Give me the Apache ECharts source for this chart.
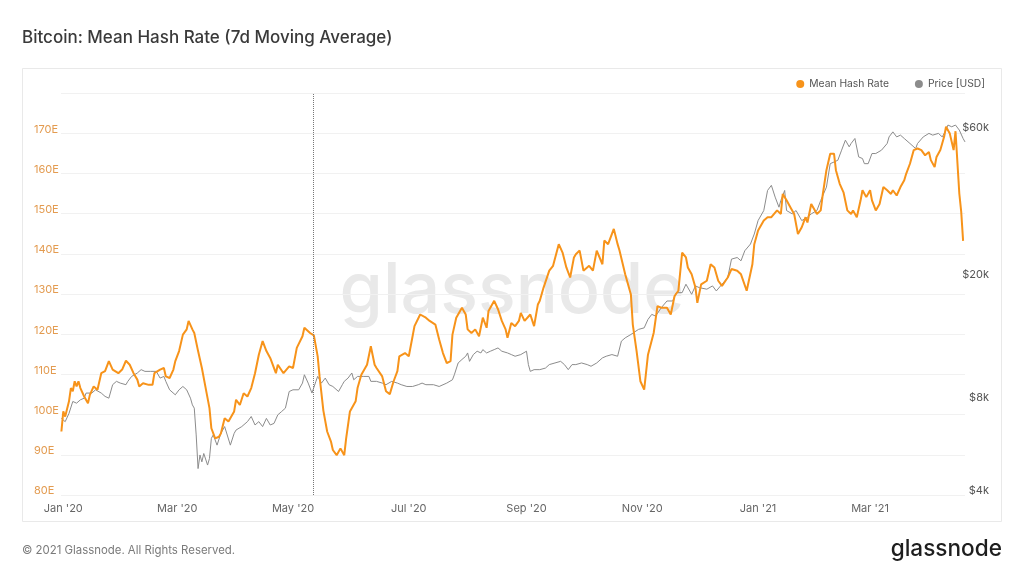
<!DOCTYPE html>
<html><head><meta charset="utf-8">
<script src="https://cdn.jsdelivr.net/npm/echarts@6/dist/echarts.min.js"></script>
<style>html,body{margin:0;padding:0;background:#fff}#c{width:1024px;height:576px}</style>
</head><body><div id="c"></div>
<script>
// Days since 2020-01-01 (UTC) for each reading
const hashDays = [-1,0,1,3,4,5,6,7,8,9,11,13,14,16,18,20,22,24,26,27,29,31,33,35,37,39,40,42,45,47,48,51,53,54,56,58,59,61,63,65,66,68,69,71,73,75,77,78,80,82,83,85,87,90,91,93,95,97,99,101,103,105,107,109,112,113,116,119,121,123,126,127,130,132,134,135,137,139,141,142,144,146,148,149,151,154,155,157,160,162,164,165,168,170,172,174,176,177,180,182,184,185,188,191,193,196,198,200,202,204,205,207,210,212,213,215,217,219,221,223,224,227,229,231,233,234,236,238,240,241,243,246,248,250,251,253,256,258,261,263,265,267,269,270,272,274,277,279,281,284,285,287,290,292,293,296,299,300,302,304,306,308,311,313,315,318,320,322,324,326,328,329,331,333,334,336,339,341,343,345,347,350,352,355,357,360,363,364,366,369,371,373,376,378,379,381,383,385,387,389,391,392,394,397,399,400,402,404,406,407,409,411,413,415,416,418,420,421,423,425,426,428,430,432,434,436,437,439,441,443,444,446,448,450,452,454,456,457,459,460,462,464,465,467,469,470,471,472,473,474];
const hashValues = [95.8,100.8,99.5,103.3,106.6,105.8,108.3,107,108.3,106.6,104.5,102.8,104.9,107,106.2,110.3,110.8,113.3,111.2,111.6,110.3,111.2,113.4,112.4,110.3,108.7,107,107.8,107.4,107.4,110.3,111.2,111.6,109.5,109.1,111.2,113.3,115.8,119.9,121.2,123.3,121.2,120.3,115.8,111.6,106.6,101.6,96.6,94.1,94.5,95.3,99.1,98.3,100.8,103.7,102.4,105.3,104.5,106.6,110.3,114.9,118.3,115.8,114.1,110.3,112.4,110.3,112,111.6,116.6,119.5,121.6,120.3,119.7,114.5,109.5,101,95.8,93.3,91.2,89.9,91.6,89.9,94.1,100.8,103.3,106.6,109.9,112.4,117,112.4,111.6,109.5,105.8,105.1,108.3,110.8,114.5,115.3,114.5,119.5,122,124.9,124.1,123.3,122.4,118.7,115.3,112.8,113.3,119.9,124.1,126.6,124.9,121.2,120.3,121.2,119.5,124.1,121.6,125.8,128.3,126.2,123.3,121.2,119.1,122.8,122,123.3,125.3,123.3,124.9,122,127.4,128.3,131.6,135.8,137,142.4,140.3,136.6,134.1,139.1,139.9,140.8,135.8,137,135.8,140.8,137.4,143.3,142.4,146.2,142.4,140.8,134.9,129.9,122.4,115.8,108.3,106.2,114.9,120.3,127,126.6,126.6,124.9,129.5,130.8,140.3,139.1,136.6,134.9,131.6,127.8,132.4,133.3,137.4,136.6,133.3,132,134.1,136.2,135.8,134.9,130.8,137.4,142.4,145.8,148.3,149.1,149.1,150.8,149.9,154.9,153.3,151.6,149.9,144.9,146.6,149.1,147.8,152.4,149.9,150.8,154.5,160.8,164.9,164.9,160.8,157.4,155.3,150.8,149.9,150.8,149.1,153.3,155.8,154.1,155.8,153.3,150.8,152.4,156.6,155.8,154.9,155.8,154.5,156.6,158.3,159.9,162.4,165.8,166.2,165.8,164.5,165.3,163.3,161.6,164.1,165.8,169.1,171.6,169.9,165.8,170.5,170.8,155,150.5,143.2];

const priceDays = [-1,0,1,3,5,7,9,11,12,13,15,17,18,20,22,24,26,28,30,33,34,36,39,41,43,44,46,47,49,51,53,54,56,59,61,63,65,67,68,69,70,71,72,73,74,76,77,78,79,81,83,85,88,90,91,94,97,99,101,103,105,107,109,111,113,115,117,119,121,122,124,126,127,129,131,133,134,136,138,140,142,145,147,148,150,152,153,155,158,161,162,165,168,170,173,176,178,181,184,187,189,191,195,198,202,205,206,208,210,212,213,214,216,218,220,221,223,225,227,229,231,234,236,238,241,242,244,245,246,248,249,251,254,256,259,262,264,266,268,270,273,276,278,281,284,286,289,292,294,296,299,300,303,306,308,310,312,313,315,318,321,323,326,328,331,333,335,336,339,342,344,347,350,352,355,357,359,362,364,366,369,371,373,375,377,378,380,381,384,386,389,392,394,397,399,402,404,406,408,410,412,414,415,417,419,421,422,424,426,428,431,434,435,437,439,441,443,444,446,449,450,453,456,458,461,463,465,466,468,470,472,474,475];
const priceValues = [7080,7180,6910,7350,8030,7930,8130,8230,8550,8650,8550,8760,8650,8550,8340,8230,9100,9330,9210,9100,9330,9680,9930,10180,10050,9930,10050,9930,10050,9560,9680,9330,8760,8440,8760,8980,8760,8230,7830,7640,6260,4870,5390,5120,5450,5000,5250,6100,6260,5800,6330,6660,5800,6330,6490,6660,6910,7180,6740,6910,6660,7080,6740,6820,7270,7450,7640,8650,8760,8870,8760,9210,9800,9210,8550,9300,9680,9210,9560,9100,8980,8650,9100,9330,9560,9930,9440,9680,9680,9680,9330,9330,9210,9100,9330,9210,9100,8980,8980,9100,9210,9100,9100,8980,9210,9440,9800,10700,10980,11250,11530,10830,11390,11680,11530,11820,11530,11680,11820,11970,11680,11530,11390,11250,11390,11530,11680,10570,10050,10180,10050,10180,10300,10570,10700,10830,10570,10180,10570,10570,10700,10570,10440,10700,11110,11250,11390,11250,12590,12900,13230,13390,13740,13900,14800,15370,15170,15170,16150,16980,16980,18070,18070,19240,17850,19000,18760,18760,18540,19000,18300,19240,20210,23200,23480,22910,24690,25960,27980,30920,33320,38700,40200,36820,34160,35920,38700,33320,32500,33320,30920,31680,32500,33320,35920,39670,47250,47840,48450,52240,56300,53560,54920,57000,49680,49080,47250,47250,50960,50960,52240,54920,57680,59880,57680,58440,57000,57680,54920,52880,54920,57680,59200,58440,59200,57680,60680,63000,62200,63000,60680,57000,55560];

const hashTicks = [80, 90, 100, 110, 120, 130, 140, 150, 160, 170, 180];
const priceTicks = [4000, 8000, 20000, 60000];
const labelMonths = [0, 2, 4, 6, 8, 10]; // Jan, Mar, May, Jul, Sep, Nov
const monthNames = ['Jan','Feb','Mar','Apr','May','Jun','Jul','Aug','Sep','Oct','Nov','Dec'];
const halvingDate = '2020-05-11T19:00:00Z';
const xStart = '2019-12-30T19:00:00Z';
const xEnd = '2021-04-20T00:00:00Z';

const DAY = 86400000, T0 = Date.UTC(2020, 0, 1);
const ts = d => T0 + d * DAY;
const hashData = hashDays.map((d, i) => [ts(d), hashValues[i]]);
const priceData = priceDays.map((d, i) => [ts(d), priceValues[i]]);

const chart = echarts.init(document.getElementById('c'), null, {renderer: 'canvas'});
const FONT = 'Inter, "Noto Sans", sans-serif';
chart.setOption({
  backgroundColor: '#ffffff',
  animation: false,
  textStyle: {fontFamily: FONT},
  graphic: [
    {type: 'rect', z: 0, silent: true, shape: {x: 22.5, y: 68.5, width: 979, height: 453},
     style: {fill: 'none', stroke: '#e9e9e9', lineWidth: 1}},
    {type: 'text', z: 1, silent: true, left: 22, top: 29,
     style: {text: 'Bitcoin: Mean Hash Rate (7d Moving Average)', font: '500 17px ' + FONT, fill: '#3a3a3a'}},
    {type: 'text', z: 1, silent: true, left: 22, top: 545,
     style: {text: '\u00a9 2021 Glassnode. All Rights Reserved.', font: '11.4px ' + FONT, fill: '#7a7a7a'}},
    {type: 'text', z: 1, silent: true, right: 22, top: 538,
     style: {text: 'glassnode', font: '500 22.6px ' + FONT, fill: '#1e1e1e'}},
    {type: 'text', z: 0, silent: true, x: 512, y: 292,
     style: {text: 'glassnode', font: '500 70px ' + FONT, fill: '#e9e9e9', align: 'center', verticalAlign: 'middle'}}
  ],
  legend: {
    right: 34, top: 74, icon: 'circle', itemWidth: 8, itemHeight: 8, itemGap: 26,
    textStyle: {fontSize: 10.3, color: '#555', fontFamily: FONT},
    data: ['Mean Hash Rate', 'Price [USD]']
  },
  grid: {left: 61, right: 59, top: 93, bottom: 81, containLabel: false},
  xAxis: {
    type: 'time', min: xStart, max: xEnd, minInterval: 28 * DAY, maxInterval: 31 * DAY,
    axisLine: {show: false}, axisTick: {show: false}, splitLine: {show: false},
    axisLabel: {
      margin: 8, fontSize: 11, color: '#666', fontFamily: FONT, hideOverlap: false,
      formatter: v => {
        const d = new Date(v);
        if (d.getUTCDate() !== 1 || labelMonths.indexOf(d.getUTCMonth()) < 0) return '';
        return monthNames[d.getUTCMonth()] + " '" + String(d.getUTCFullYear()).slice(2);
      }
    }
  },
  yAxis: [
    {
      type: 'value', position: 'left', min: hashTicks[0], max: hashTicks[hashTicks.length - 1], interval: 10,
      axisLine: {show: false}, axisTick: {show: false},
      splitLine: {show: true, lineStyle: {color: '#f1f1f1', width: 1}},
      axisLabel: {showMaxLabel: false, align: 'left', margin: 27, fontSize: 11, color: '#e39b50', fontFamily: FONT,
        verticalAlign: 'bottom', lineHeight: 8, formatter: v => v + 'E'}
    },
    {
      type: 'log', logBase: 10, position: 'right', min: 4000, max: 80000,
      axisLine: {show: false}, axisTick: {show: false}, splitLine: {show: false},
      axisLabel: {customValues: priceTicks, align: 'right', margin: 24, fontSize: 11, color: '#555', fontFamily: FONT,
        verticalAlign: 'bottom', lineHeight: 8, formatter: v => '$' + Math.round(v / 1000) + 'k'}
    }
  ],
  series: [
    {
      name: 'Price [USD]', type: 'line', yAxisIndex: 1, data: priceData, showSymbol: false,
      color: '#8c8c8c', lineStyle: {width: 1, color: '#8c8c8c'}, z: 3
    },
    {
      name: 'Mean Hash Rate', type: 'line', yAxisIndex: 0, data: hashData, showSymbol: false,
      color: '#f7931a', lineStyle: {width: 2, color: '#f7931a'}, z: 4,
      markLine: {
        silent: true, symbol: 'none', label: {show: false},
        lineStyle: {type: 'dotted', color: '#777', width: 1},
        data: [{xAxis: Date.parse(halvingDate)}]
      }
    }
  ]
});
</script>
</body></html>
